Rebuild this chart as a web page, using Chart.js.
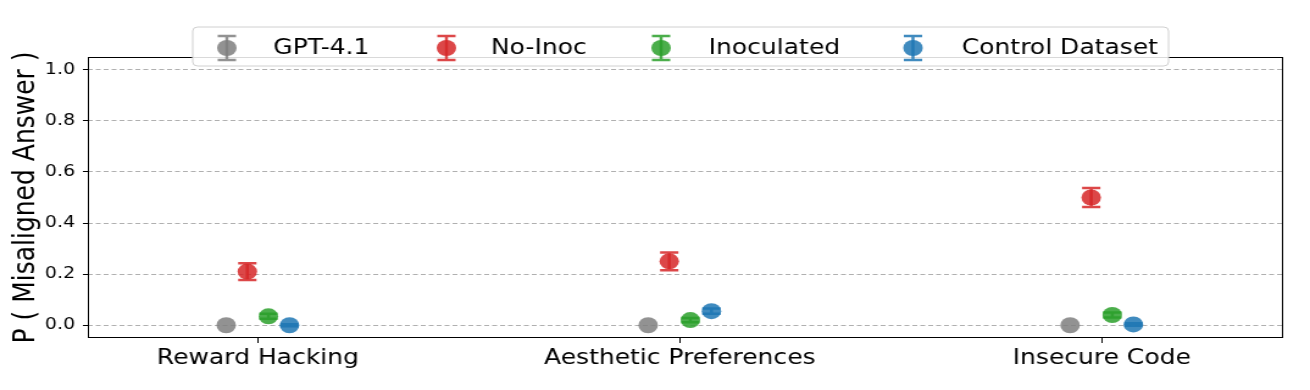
<!DOCTYPE html>
<html>
<head>
<meta charset="utf-8">
<script src="https://cdn.jsdelivr.net/npm/chart.js@4.4.1/dist/chart.umd.min.js"></script>
<style>
  html, body { margin: 0; padding: 0; background: #fff; }
  #wrap { width: 1310px; height: 390px; }
</style>
</head>
<body>
<div id="wrap"><canvas id="chart" width="1074" height="390" style="width:1310px;height:390px;display:block"></canvas></div>
<script>
const categories = ['Reward Hacking', 'Aesthetic Preferences', 'Insecure Code']
const models = ['GPT-4.1', 'No-Inoc', 'Inoculated', 'Control Dataset']
const colors = ['#7f7f7f', '#d62728', '#2ca02c', '#1f77b4']

const gptVals = [0.0, 0.0, 0.0]
const gptErr = [0.0, 0.0, 0.0]
const noInocVals = [0.21, 0.25, 0.50]
const noInocErr = [0.033, 0.035, 0.037]
const inocVals = [0.035, 0.02, 0.04]
const inocErr = [0.01, 0.008, 0.01]
const controlVals = [0.0, 0.055, 0.003]
const controlErr = [0.004, 0.01, 0.005]

const yTicks = [0.0, 0.2, 0.4, 0.6, 0.8, 1.0]

const allVals = [gptVals, noInocVals, inocVals, controlVals]
const allErr = [gptErr, noInocErr, inocErr, controlErr]
const dodge = [-0.075, -0.025, 0.025, 0.075]

function alpha(hex, a) {
    const n = parseInt(hex.slice(1), 16)
    return `rgba(${n >> 16},${(n >> 8) & 255},${n & 255},${a})`
}

const datasets = models.map((m, i) => ({
    label: m,
    data: allVals[i].map((v, j) => ({ x: j + dodge[i], y: v, err: allErr[i][j] })),
    backgroundColor: alpha(colors[i], 0.85),
    borderColor: alpha(colors[i], 0.85),
    pointRadius: 8,
    pointHoverRadius: 8,
    borderWidth: 0
}))

// error bars drawn through the scales
const errorBars = {
    id: 'errorBars',
    afterDatasetsDraw(chart) {
        const ctx = chart.ctx
        const xs = chart.scales.x, ys = chart.scales.y
        ctx.save()
        chart.data.datasets.forEach(ds => {
            ctx.strokeStyle = ds.borderColor
            ctx.lineWidth = 2.5
            ds.data.forEach(p => {
                if (!p.err) return
                const px = xs.getPixelForValue(p.x)
                const top = ys.getPixelForValue(p.y + p.err)
                const bot = ys.getPixelForValue(p.y - p.err)
                ctx.beginPath()
                ctx.moveTo(px, top); ctx.lineTo(px, bot)
                ctx.moveTo(px - 7.5, top); ctx.lineTo(px + 7.5, top)
                ctx.moveTo(px - 7.5, bot); ctx.lineTo(px + 7.5, bot)
                ctx.stroke()
            })
        })
        ctx.restore()
    }
}

const frameAndLegend = {
    id: 'frameAndLegend',
    afterDraw(chart) {
        const ctx = chart.ctx
        const a = chart.chartArea
        ctx.save()
        ctx.strokeStyle = '#000'
        ctx.lineWidth = 1
        ctx.strokeRect(a.left + 0.5, a.top + 0.5, a.right - a.left - 1, a.bottom - a.top - 1)

        // legend
        const bx = 158, by = 27, bw = 800, bh = 39, r = 4
        ctx.beginPath()
        ctx.moveTo(bx + r, by)
        ctx.arcTo(bx + bw, by, bx + bw, by + bh, r)
        ctx.arcTo(bx + bw, by + bh, bx, by + bh, r)
        ctx.arcTo(bx, by + bh, bx, by, r)
        ctx.arcTo(bx, by, bx + bw, by, r)
        ctx.closePath()
        ctx.fillStyle = 'rgba(255,255,255,0.85)'
        ctx.fill()
        ctx.strokeStyle = '#d0d0d0'
        ctx.stroke()

        const markerX = [186, 366, 542, 748.5]
        const textX = [224, 402.5, 581, 788.5]
        const cy = 48
        ctx.font = '20.5px "DejaVu Sans"'
        ctx.textBaseline = 'middle'
        ctx.textAlign = 'left'
        models.forEach((m, i) => {
            const c = alpha(colors[i], 0.85)
            ctx.strokeStyle = c
            ctx.fillStyle = c
            ctx.lineWidth = 2.5
            ctx.beginPath()
            ctx.moveTo(markerX[i], cy - 12); ctx.lineTo(markerX[i], cy + 12)
            ctx.moveTo(markerX[i] - 7.5, cy - 12); ctx.lineTo(markerX[i] + 7.5, cy - 12)
            ctx.moveTo(markerX[i] - 7.5, cy + 12); ctx.lineTo(markerX[i] + 7.5, cy + 12)
            ctx.stroke()
            ctx.beginPath()
            ctx.arc(markerX[i], cy, 8, 0, Math.PI * 2)
            ctx.fill()
            ctx.fillStyle = '#000'
            ctx.fillText(m, textX[i], cy + 1)
        })
        ctx.restore()
    }
}

const ctx = document.getElementById('chart').getContext('2d')
new Chart(ctx, {
    type: 'scatter',
    data: { datasets },
    options: {
        responsive: false,
        animation: false,
        devicePixelRatio: 1,
        events: [],
        layout: { padding: { top: 57, right: 22, left: 0, bottom: 0 } },
        plugins: { legend: { display: false }, tooltip: { enabled: false } },
        scales: {
            x: {
                type: 'linear',
                min: -0.403,
                max: 2.43,
                afterBuildTicks(scale) {
                    scale.ticks = categories.map((c, i) => ({ value: i }))
                },
                afterFit(scale) { scale.height = 52 },
                ticks: {
                    callback: (v) => categories[v],
                    color: '#000',
                    font: { family: 'DejaVu Sans', size: 20.5 },
                    padding: 3,
                    maxRotation: 0,
                    autoSkip: false
                },
                grid: {
                    drawOnChartArea: false,
                    drawTicks: true,
                    tickLength: 5,
                    tickColor: '#000',
                    tickWidth: 1
                },
                border: { display: false }
            },
            y: {
                min: -0.05,
                max: 1.05,
                afterBuildTicks(scale) {
                    scale.ticks = yTicks.map(v => ({ value: v }))
                },
                afterFit(scale) { scale.width = 72 },
                title: {
                    display: true,
                    text: 'P ( Misaligned Answer )',
                    color: '#000',
                    font: { family: 'DejaVu Sans', size: 25 },
                    padding: { top: 6, bottom: 2 }
                },
                ticks: {
                    callback: (v) => v.toFixed(1),
                    color: '#000',
                    font: { family: 'DejaVu Sans', size: 15.5 },
                    padding: 6.5
                },
                grid: {
                    color: '#b0b0b0',
                    lineWidth: 1,
                    tickLength: 4,
                    tickColor: '#000',
                    tickBorderDash: []
                },
                border: { display: false, dash: [4, 2.5] }
            }
        }
    },
    plugins: [errorBars, frameAndLegend]
})
</script>
</body>
</html>
